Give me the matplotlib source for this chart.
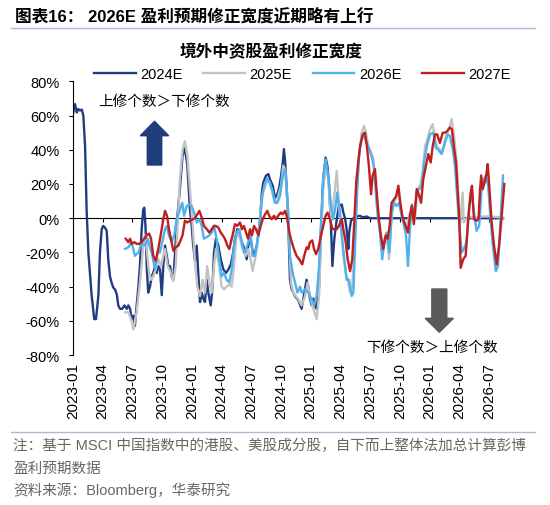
import matplotlib
matplotlib.use("Agg")
import matplotlib.pyplot as plt
from matplotlib.lines import Line2D
from matplotlib.patches import FancyArrow

plt.rcParams['font.family'] = ['Liberation Sans', 'Noto Sans CJK SC', 'DejaVu Sans']
plt.rcParams['axes.unicode_minus'] = False

# ---------------- data (x: week index, y: %) ----------------
x_labels = ["2023-01", "2023-04", "2023-07", "2023-10", "2024-01", "2024-04", "2024-07",
            "2024-10", "2025-01", "2025-04", "2025-07", "2025-10", "2026-01", "2026-04", "2026-07"]
x_label_start = 1.37
x_label_step = 13.6

series_names = ["2024E", "2025E", "2026E", "2027E"]

e2024_x = [1.5,2.3,3.1,3.8,4.6,5.4,6.1,6.9,7.6,8.4,
           9.9,11.1,11.9,13.0,13.7,14.5,15.2,16.0,16.8,17.5,
           18.3,19.1,19.8,20.6,21.4,22.1,22.9,23.9,24.9,26.0,
           26.7,27.5,28.2,29.0,29.7,30.5,31.3,32.0,32.8,33.5,
           34.0,34.6,35.1,35.8,36.6,37.4,38.1,38.9,39.7,40.4,
           41.2,42.0,42.7,43.5,44.3,45.0,45.8,46.5,47.3,48.1,
           48.8,49.6,50.3,51.5,52.6,53.7,54.9,55.7,56.4,57.2,
           58.0,58.7,59.5,60.3,61.0,61.8,62.6,63.3,64.4,65.1,
           65.9,66.8,67.9,69.0,70.2,71.4,72.5,73.6,74.7,75.5,
           76.6,77.5,78.6,79.3,80.1,80.9,81.6,82.4,83.2,83.9,
           84.7,85.5,86.2,87.0,87.8,88.5,89.7,90.8,91.5,92.8,
           93.8,94.9,95.8,96.6,97.4,97.9,98.5,99.2,99.9,100.7,
           101.5,102.2,103.0,104.5,106.0,106.8,108.3,109.1,109.8,110.6,
           111.4,112.1,112.9,114.0,114.9,115.9,117.0,117.8,118.5,119.5,
           120.1,121.0,122.1,123.1,124.4,125.1,125.9,126.6,127.4,127.8,
           128.6,129.7,131.4,132.7,134.1,135.9,137.3,150,170,190,
           198.2]
e2024_y = [61.8,66.7,61.8,63.8,63,63.5,60,42,5,-20,
           -45,-59,-59,-45,-20,-6.4,-4.5,-5.5,-7.4,-24,
           -34,-38,-40.6,-41.6,-44.5,-51,-53,-53,-51,-53,
           -51,-53,-59,-57,-63,-51,-40,-28,-6.4,5,
           6.2,-6,-28,-43.5,-40,-34,-32,-28,-32,-28,
           -30,-45,-28,-16,-22,-28,-28,-34,-36,-20,
           -5,8,17,36.5,41,30.6,5.3,-4.5,-16,-25,
           -16,-32,-49,-43.5,-47,-49,-36,-43.5,-51,-43,
           -20,-12,-16,-24,-30,-32,-30,-27,-20,-12,
           -6.4,-10,-14,-16,-20,-24,-16,-10,-16,-22,
           -20,-16,-10,-0.6,15,21,24.8,25.8,22.8,19,
           12,14,18,24.8,32.6,40.4,32.6,17,-2.5,-36,
           -41.6,-43.5,-45.5,-48,-53,-47,-36,-40,-47,-51,
           -47,-51,-53,-40,-6.4,23,35.5,30.6,21,-6,
           -28,-12,-0.6,7.2,8,3.3,0,-6.4,-18,-8.4,
           -1.5,0,1,1.4,0.5,1,0,0,0,0,
           0]

e2025_x = [25.2,26.7,28.2,29.0,30.5,32.0,33.5,34.3,35.1,36.2,
           37.1,38.1,39.2,40.4,41.7,42.7,43.5,44.7,46.2,47.3,
           48.4,49.3,50.3,51.5,52.6,53.7,54.9,56.2,57.2,58.3,
           59.5,60.7,61.8,62.8,63.8,64.9,65.9,66.8,68.3,69.4,
           70.5,71.7,72.9,74.0,75.1,76.3,77.5,78.6,79.6,80.6,
           81.6,82.7,83.6,84.7,85.7,86.6,87.7,88.8,90.0,91.2,
           92.3,93.4,94.6,95.7,96.6,97.6,98.5,99.5,100.4,101.2,
           102.2,103.4,104.5,106.0,107.6,108.8,109.8,111.4,112.9,114.0,
           114.9,115.9,117.0,118.2,119.5,120.5,122.1,123.1,124.0,125.1,
           126.2,127.1,128.2,129.2,130.1,131.2,132.3,133.5,134.6,135.5,
           136.5,137.8,138.8,139.6,140.4,141.1,141.9,142.9,143.9,145.0,
           146.0,146.9,148.0,149.1,150.3,151.5,152.6,154.1,155.3,156.4,
           157.9,159.0,160.2,161.4,162.5,163.5,164.8,166.0,167.1,168.1,
           169.3,170.4,171.6,172.7,173.9,174.7,175.8,177.0,178.0,178.8,
           179.7,180.3,181.2,183.1,184.9,187.7,192.2,198.2]
e2025_y = [-55,-55,-60,-65,-55,-37.6,-16,-10,-18,-32,
           -36,-34,-30,-24,-28,-22,-18,-28,-32,-36.7,
           -28,-2.5,23,40,45,36.5,17,-4.5,-26,-40,
           -45.5,-36,-43.5,-28,-37.6,-43.5,-28,-18,-28,-40,
           -41.6,-40,-38.8,-40,-28,-8.4,-10,-16,-20,-22,
           -18,-24,-30.8,-24,-16,-4.5,11,17,21,21,
           17,11,9,15,19,30.6,28.7,9,-16,-37.6,
           -43.5,-45.5,-47.4,-51,-45.5,-37.6,-45.5,-53,-59,-45.5,
           -10,17,30.6,22.8,-0.6,7.2,27.7,7.2,-4.5,-22,
           -32,-36,-43.5,-39.6,-20,13,36.5,50,54,50,
           42,38.4,34.5,24.8,7.2,-0.6,-8.4,-20,-12,-10,
           -24,-4.5,9,11,15,5,-1,-4.5,1.4,7.2,
           -0.6,17,19,26.7,42,46,52,55,46,42,
           40,38.4,46,50,54,58,48,32.6,7.2,-2.5,
           15,-2.5,-0.6,1,0,1,1,0.5]

e2026_x = [25.2,26.7,28.2,29.7,31.3,32.8,34.3,35.6,36.6,37.7,
           38.9,40.1,41.2,42.2,43.5,44.3,45.3,46.5,47.7,48.8,
           50.3,51.4,52.2,53.4,54.6,55.7,56.8,58.0,59.2,60.3,
           61.3,62.6,63.8,64.9,65.9,67.1,68.3,69.4,70.5,71.7,
           72.9,74.0,75.1,76.3,77.5,78.6,79.6,80.6,81.6,82.7,
           83.6,84.7,85.7,87.0,88.2,89.3,90.3,91.5,92.8,93.8,
           94.9,96.1,97.4,98.4,99.2,99.9,100.7,101.9,103.0,104.1,
           105.3,106.0,107.6,109.1,110.6,111.8,112.9,114.0,114.9,115.9,
           117.0,118.2,119.5,120.5,121.6,122.3,123.6,124.4,125.6,126.6,
           127.7,128.9,129.7,130.4,131.4,132.4,133.5,134.6,135.8,136.8,
           138.1,139.0,139.9,140.8,141.9,142.9,143.9,145.0,146.2,147.3,
           148.3,149.5,150.6,151.5,152.6,153.8,154.7,155.6,156.5,157.4,
           158.7,159.9,161.0,162.0,163.3,164.8,166.3,167.5,168.6,170.1,
           171.6,172.9,173.9,175.2,176.2,177.3,178.2,179.3,180.3,181.5,
           182.7,183.8,184.9,186.1,187.3,188.4,189.4,190.3,191.4,192.5,
           193.7,194.9,195.9,197.0,198.2]
e2026_y = [-18,-17,-14,-22,-20,-15,-16,-12,-17,-22,
           -30,-20,-20,-14,-6.4,-4.5,-10,-14,-10,-0.6,
           5,9,1.4,7,8,7,3.3,-2.5,-0.6,-4.5,
           -12,-11,-10,-8.4,-4.5,-12,-24,-34,-32,-36,
           -37.6,-30,-16,-8.4,-6.4,-14,-20,-18,-14,-10,
           -22,-22,-14,-0.6,15,21,23,21,15,9,
           9,13,24.8,28.7,17,3.3,-22,-32,-37.6,-43.5,
           -40,-43.5,-41.6,-43.5,-47.4,-51,-45.5,-28,-2.5,23,
           34.5,24.8,7.2,-0.6,7.2,15,3.3,-10,-24,-36,
           -36,-45.5,-43.5,-20,15,38.4,47,48,44,41,
           36,30.6,17,3.3,-8.4,-24,-14,-8.4,-20,3.3,
           9,7.2,9,3.3,-2.5,-10,-28,-6.4,8,-0.6,
           15,17,19,32.6,42,49,50,41,40,37.5,
           44,49,48,40,30.6,11,-4.5,-20,-18,-14,
           7.2,15,3.3,-7.4,-4.5,17,22.8,24.8,19,-0.6,
           -18,-31,-28,-2.5,25]

e2027_x = [25.5,26.7,27.5,28.2,29.4,30.5,31.6,32.8,34.0,35.1,
           36.2,37.1,38.1,39.2,40.4,41.7,42.7,43.5,44.4,45.3,
           46.2,47.3,48.4,49.6,50.6,51.5,52.6,53.7,54.9,56.2,
           57.2,58.3,59.2,60.3,61.3,62.6,63.8,64.9,65.9,66.8,
           67.9,69.0,69.9,70.9,72.0,72.9,74.0,74.7,75.5,76.6,
           77.8,78.7,79.6,80.6,81.5,82.4,83.3,84.2,85.1,86.2,
           87.3,88.2,89.3,90.3,91.2,92.3,93.4,94.3,95.3,96.4,
           97.4,98.4,99.2,100.4,101.5,102.5,103.7,104.9,106.3,107.2,
           108.3,109.1,109.8,110.9,111.7,112.6,113.6,114.9,115.9,117.0,
           117.9,119.0,120.1,121.0,122.1,123.1,124.4,125.1,126.2,127.1,
           128.2,129.2,130.1,131.0,131.9,132.8,134.0,135.0,135.9,136.8,
           137.8,138.5,139.6,140.4,141.4,142.3,143.4,144.5,145.4,146.3,
           147.2,148.3,149.3,150.3,151.2,152.1,153.0,153.8,154.7,155.6,
           156.5,157.4,158.7,159.6,160.7,161.7,162.9,164.0,165.1,166.0,
           167.1,168.1,169.3,170.6,171.6,172.7,173.9,174.8,175.7,176.7,
           177.4,178.2,178.8,180.0,181.1,182.3,183.4,184.0,184.9,186.1,
           187.0,187.7,188.2,188.9,189.8,190.5,191.2,192.0,193.0,194.1,
           195.3,196.4,197.6,198.8]
e2027_y = [-12,-14,-12,-15,-14,-15,-15,-14,-12,-10,
           -9,-12,-22,-25,-18,-8.4,-0.6,4.3,1.4,-6.4,
           -12,-19,-17,-16,-13,-10,-1.5,-2.5,-1.5,-0.6,
           0,2.3,4.3,0.4,-4.5,-6.4,-8.4,-6.4,-4.5,-4.5,
           -5.5,-8.4,-10,-12,-16,-18,-12,-8.4,-3.5,-4.5,
           -2.5,-6.4,-4.5,-8.4,-12,-6.4,-10,-4.5,-6.4,-10,
           -4.5,-0.6,2.3,4.3,1.4,-0.6,1.4,-0.6,1.4,3.3,
           2.3,4.3,1.4,-8.4,-14,-18,-22,-24,-27,-22,
           -17,-18,-14,-13,-18,-21,-18,-10,-4.5,1.4,
           3.3,-0.6,-6.4,-6.4,-6.4,-4.5,-0.6,-6.4,-14,-24,
           -31,-24,-2.5,21,32.6,42,49,50,42,30.6,
           14,24.8,28.7,15,-0.6,-10,-18,-10,-12,-4.5,
           9,11,13,19,9,1.4,-2.5,-5,-8.4,1.4,
           7.2,-3.5,17,14,9,23,30.6,37.5,32.6,42,
           49,49,44,50,50,51,53,52,42,32.6,
           17,-0.6,-29,-24,-22,-0.6,15,19,-0.6,-1.5,
           -0.6,17,25,17,21,25,31.6,17,-2.5,-16,
           -27,-16,1.4,20]

y_ticks = [-80, -60, -40, -20, 0, 20, 40, 60, 80]

# ---------------- styles ----------------
C_NAVY = '#1F3D84'
C_GRAY = '#C3C3C3'
C_LBLUE = '#4FB1EE'
C_RED = '#BF1F1D'
colors = [C_NAVY, C_GRAY, C_LBLUE, C_RED]

W, H = 550, 506
fig = plt.figure(figsize=(W / 100, H / 100), dpi=100)

ax_left, ax_right, ax_top, ax_bot = 73, 510, 82.4, 356
ax = fig.add_axes([ax_left / W, (H - ax_bot) / H, (ax_right - ax_left) / W, (ax_bot - ax_top) / H])
ax.set_xlim(x_label_start, 201.4)
ax.set_ylim(-80, 80)

for s in ['top', 'right', 'bottom']:
    ax.spines[s].set_visible(False)
ax.spines['left'].set_linewidth(0.8)
ax.spines['left'].set_color('black')

xt = [x_label_start + x_label_step * k for k in range(len(x_labels))]
ax.set_xticks(xt)
ax.set_xticklabels(x_labels, rotation=90, fontsize=11)
ax.tick_params(axis='x', length=0, pad=5)

ax.set_yticks(y_ticks)
ax.set_yticklabels([f"{v}%" for v in y_ticks], fontsize=10.5)
ax.tick_params(axis='y', length=2.9, width=0.8, pad=6.7, direction='out')

# zero axis line with ticks
ax.plot([x_label_start, 198.2], [0, 0], color='black', lw=0.8, zorder=1)
ax.vlines(xt[1:], -2.4, 0, color='black', lw=0.8, zorder=1)

handles = []
for xs, ys, c, n in zip([e2024_x, e2025_x, e2026_x, e2027_x],
                        [e2024_y, e2025_y, e2026_y, e2027_y], colors, series_names):
    ln, = ax.plot(xs, ys, color=c, lw=1.7, label=n, zorder=2, solid_joinstyle='round')
    handles.append(ln)

fig.legend(handles, series_names, loc='center', bbox_to_anchor=(302.5 / W, 1 - 75 / H),
           ncol=4, frameon=False, fontsize=10.5, handlelength=2.85, handletextpad=0.32,
           columnspacing=1.43, borderpad=0, borderaxespad=0)

# titles
fig.text(14.8 / W, 1 - 16.5 / H, "图表16： 2026E 盈利预期修正宽度近期略有上行",
         fontsize=12, fontweight='bold', ha='left', va='center')
fig.add_artist(Line2D([11.3 / W, 535 / W], [1 - 28.5 / H] * 2, color='#A8BCD2', lw=1.0))
fig.text(271 / W, 1 - 52 / H, "境外中资股盈利修正宽度", fontsize=12, fontweight='bold',
         ha='center', va='center')

# annotations
fig.text(98.3 / W, 1 - 102.3 / H, "上修个数＞下修个数", fontsize=10.5, ha='left', va='center')
fig.text(366 / W, 1 - 348.3 / H, "下修个数＞上修个数", fontsize=10.5, ha='left', va='center')

fig.add_artist(FancyArrow(1.545, (H - 166) / 100, 0, (166 - 122.3) / 100, width=0.144,
                          head_width=0.283, head_length=0.144, length_includes_head=True,
                          color='#1F3D7C', transform=fig.dpi_scale_trans))
fig.add_artist(FancyArrow(4.393, (H - 290) / 100, 0, -(333.3 - 290) / 100, width=0.15,
                          head_width=0.283, head_length=0.14, length_includes_head=True,
                          color='#5A5A5A', transform=fig.dpi_scale_trans))

# footnotes
fig.add_artist(Line2D([11.3 / W, 535 / W], [1 - 433 / H] * 2, color='#A8BCD2', lw=1.0))
fc = '#666666'
fig.text(13.4 / W, 1 - 446 / H, "注：基于 MSCI 中国指数中的港股、美股成分股，自下而上整体法加总计算彭博",
         fontsize=10.5, color=fc, ha='left', va='center')
fig.text(13.4 / W, 1 - 469 / H, "盈利预期数据", fontsize=10.5, color=fc, ha='left', va='center')
fig.text(13.4 / W, 1 - 490.5 / H, "资料来源：Bloomberg，华泰研究", fontsize=10.5, color=fc,
         ha='left', va='center')

fig.savefig("out.png", dpi=100)
